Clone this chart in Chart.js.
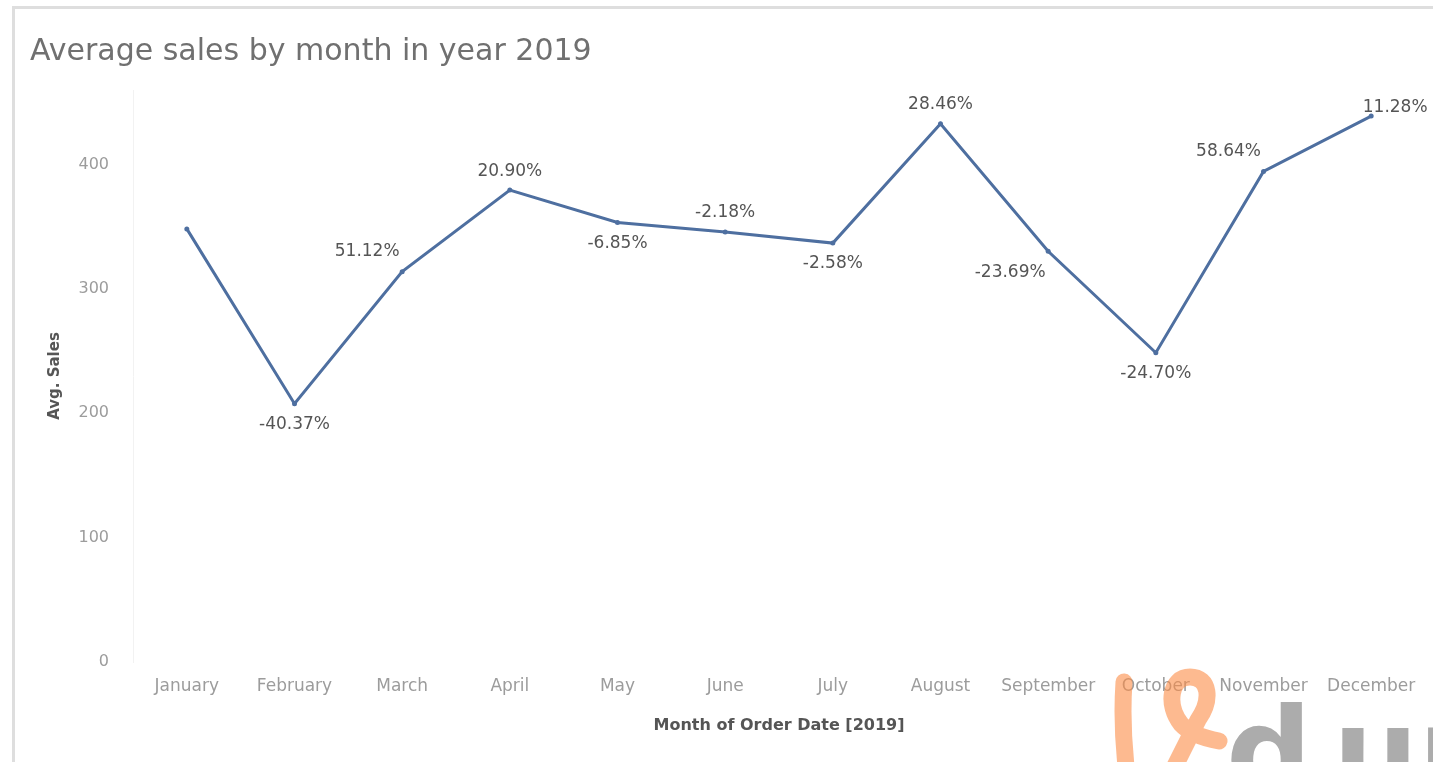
<!DOCTYPE html>
<html>
<head>
<meta charset="utf-8">
<script src="https://cdn.jsdelivr.net/npm/chart.js@4.4.1/dist/chart.umd.min.js"></script>
<style>
  html, body { margin: 0; padding: 0; background: #fff; overflow: hidden; }
  #wrap { width: 1433px; height: 762px; position: relative; }
</style>
</head>
<body>
<div id="wrap"><canvas id="c" width="1433" height="762"></canvas></div>
<script>
// Monthly average sales, 2019
const months = ['January', 'February', 'March', 'April', 'May', 'June',
                'July', 'August', 'September', 'October', 'November', 'December'];
const avgSales = [348.3, 207.7, 313.9, 379.5, 353.5, 345.8, 336.9, 432.8, 330.3, 248.7, 394.5, 439.0];
// month-over-month change shown next to each point
const changeLabels = [null, '-40.37%', '51.12%', '20.90%', '-6.85%', '-2.18%', '-2.58%',
                      '28.46%', '-23.69%', '-24.70%', '58.64%', '11.28%'];
const yTicks = [0, 100, 200, 300, 400];

const chartTitle = 'Average sales by month in year 2019';
const FONT = "'DejaVu Sans', sans-serif";

// where each change label sits relative to its point
const labelPlacement = ['none', 'below', 'aboveLeft', 'above', 'below', 'above', 'below',
                        'above', 'belowLeft', 'below', 'aboveLeft', 'aboveRight'];
const placementOffset = {
  above: [0, -19], below: [0, 21], aboveLeft: [-35, -20],
  belowLeft: [-38, 21], aboveRight: [24, -9]
};

// sheet frame + title
const framePlugin = {
  id: 'frame',
  beforeDraw(chart) {
    const ctx = chart.ctx;
    ctx.save();
    ctx.fillStyle = '#ffffff';
    ctx.fillRect(0, 0, chart.width, chart.height);
    ctx.strokeStyle = '#dedede';
    ctx.lineWidth = 3;
    ctx.beginPath();
    ctx.moveTo(13.5, chart.height);
    ctx.lineTo(13.5, 7.5);
    ctx.lineTo(chart.width, 7.5);
    ctx.stroke();
    ctx.font = '30px ' + FONT;
    ctx.fillStyle = '#707070';
    ctx.textAlign = 'left';
    ctx.textBaseline = 'alphabetic';
    ctx.fillText(chartTitle, 30, 60);
    ctx.restore();
  }
};

// percentage labels next to the points
const changeLabelPlugin = {
  id: 'changeLabels',
  afterDatasetsDraw(chart) {
    const ctx = chart.ctx;
    const meta = chart.getDatasetMeta(0);
    ctx.save();
    ctx.font = '17px ' + FONT;
    ctx.fillStyle = '#555555';
    ctx.textAlign = 'center';
    ctx.textBaseline = 'middle';
    meta.data.forEach((pt, i) => {
      const txt = changeLabels[i];
      const off = placementOffset[labelPlacement[i]];
      if (!txt || !off) return;
      ctx.fillText(txt, pt.x + off[0], pt.y + off[1]);
    });
    ctx.restore();
  }
};

// corner logo mark
const logoPlugin = {
  id: 'logo',
  afterDraw(chart) {
    const ctx = chart.ctx;
    ctx.save();
    ctx.fillStyle = '#acacac';
    ctx.font = 'bold 120px ' + FONT;
    ctx.textBaseline = 'alphabetic';
    ctx.textAlign = 'left';
    ctx.fillText('d', 1226, 793);
    ctx.fillText('u', 1333, 793);
    ctx.fillText('r', 1418, 793);
    ctx.strokeStyle = 'rgba(252,140,70,0.6)';
    ctx.lineWidth = 17;
    ctx.lineCap = 'round';
    ctx.lineJoin = 'round';
    ctx.beginPath();
    ctx.moveTo(1124, 682);
    ctx.quadraticCurveTo(1121, 725, 1127, 775);
    ctx.stroke();
    ctx.beginPath();
    ctx.moveTo(1219, 741);
    ctx.quadraticCurveTo(1192, 736, 1181, 724);
    ctx.bezierCurveTo(1166, 705, 1170, 677, 1190, 677);
    ctx.bezierCurveTo(1210, 677, 1212, 700, 1198, 720);
    ctx.lineTo(1172, 772);
    ctx.stroke();
    ctx.restore();
  }
};

new Chart(document.getElementById('c'), {
  type: 'line',
  data: {
    labels: months,
    datasets: [{
      label: 'Avg. Sales',
      data: avgSales,
      borderColor: '#4e6fa0',
      backgroundColor: '#4e6fa0',
      borderWidth: 3,
      pointRadius: 2.5,
      pointHoverRadius: 2.5,
      pointBackgroundColor: '#4e6fa0',
      pointBorderWidth: 0,
      tension: 0,
      fill: false
    }]
  },
  options: {
    responsive: false,
    animation: false,
    events: [],
    layout: { padding: { left: 14, right: 8, top: 90, bottom: 0 } },
    plugins: {
      legend: { display: false },
      title: { display: false },
      tooltip: { enabled: false }
    },
    scales: {
      x: {
        type: 'category',
        offset: true,
        grid: { display: false, drawTicks: false },
        border: { display: false },
        ticks: {
          color: '#9c9c9c',
          font: { family: FONT, size: 17 },
          padding: 14,
          maxRotation: 0,
          autoSkip: false
        },
        title: {
          display: true,
          text: 'Month of Order Date [2019]',
          color: '#555555',
          font: { family: FONT, size: 16, weight: 'bold' },
          padding: { top: 0, bottom: 27 }
        },
        afterFit(scale) { scale.height = 100; }
      },
      y: {
        min: 0,
        max: 460,
        afterBuildTicks(scale) { scale.ticks = yTicks.map(v => ({ value: v })); },
        grid: { display: false, drawTicks: false },
        border: { display: true, color: '#f2f2f2', width: 1 },
        ticks: {
          color: '#9c9c9c',
          font: { family: FONT, size: 16 },
          padding: 24
        },
        title: {
          display: true,
          text: 'Avg. Sales',
          color: '#555555',
          font: { family: FONT, size: 15, weight: 'bold' },
          padding: { top: 32, bottom: 0 }
        },
        afterFit(scale) { scale.width = 119; }
      }
    }
  },
  plugins: [framePlugin, changeLabelPlugin, logoPlugin]
});
</script>
</body>
</html>
